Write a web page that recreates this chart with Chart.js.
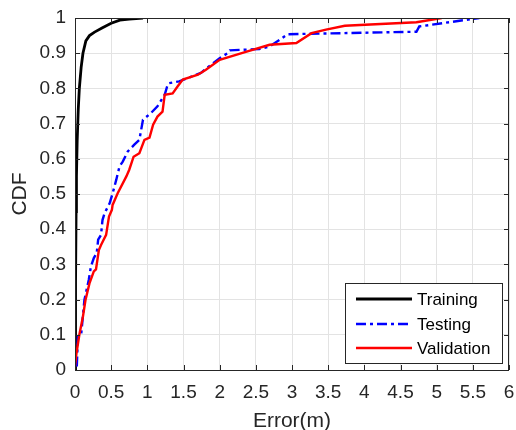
<!DOCTYPE html>
<html>
<head>
<meta charset="utf-8">
<script src="https://cdn.jsdelivr.net/npm/chart.js@4/dist/chart.umd.min.js"></script>
<style>
  html, body { margin: 0; padding: 0; background: #fff; }
  #wrap { width: 516px; height: 430px; }
</style>
</head>
<body>
<div id="wrap"><canvas id="cdf" width="516" height="430"></canvas></div>
<script>
// --- datos ---
const xTicks = [0, 0.5, 1, 1.5, 2, 2.5, 3, 3.5, 4, 4.5, 5, 5.5, 6];
const yTicks = [0, 0.1, 0.2, 0.3, 0.4, 0.5, 0.6, 0.7, 0.8, 0.9, 1];
const seriesNames = ['Training', 'Testing', 'Validation'];

const trainX = [0, 0.005, 0.01, 0.015, 0.02, 0.03, 0.045, 0.06, 0.085, 0.11, 0.15, 0.2, 0.27, 0.38, 0.5, 0.62, 0.75, 0.94];
const trainY = [0, 0.1, 0.25, 0.45, 0.55, 0.65, 0.74, 0.8, 0.86, 0.9, 0.935, 0.95, 0.96, 0.972, 0.985, 0.994, 0.997, 1.0];

const testX = [0.025, 0.04, 0.085, 0.13, 0.19, 0.22, 0.26, 0.30, 0.32, 0.36, 0.38, 0.41, 0.48, 0.52, 0.57, 0.615, 0.66, 0.73, 0.82, 0.89, 0.94, 1.05, 1.14, 1.24, 1.28, 1.30, 1.44, 1.74, 1.88, 2.0, 2.11, 2.14, 2.55, 2.69, 2.83, 2.94, 4.72, 4.76, 5.59];
const testY = [0.01, 0.095, 0.1, 0.199, 0.256, 0.294, 0.318, 0.332, 0.37, 0.384, 0.426, 0.446, 0.474, 0.502, 0.54, 0.578, 0.592, 0.621, 0.64, 0.654, 0.711, 0.73, 0.749, 0.782, 0.81, 0.815, 0.82, 0.844, 0.867, 0.886, 0.9, 0.908, 0.912, 0.919, 0.938, 0.954, 0.961, 0.976, 1.0];

const valX = [0, 0.02, 0.06, 0.11, 0.145, 0.2, 0.26, 0.29, 0.33, 0.36, 0.43, 0.47, 0.51, 0.52, 0.59, 0.71, 0.75, 0.81, 0.89, 0.96, 1.03, 1.08, 1.14, 1.21, 1.24, 1.35, 1.42, 1.49, 1.70, 1.81, 2.0, 2.35, 2.69, 3.06, 3.27, 3.47, 3.73, 4.72, 5.07];
const valY = [0.01, 0.047, 0.1, 0.152, 0.199, 0.246, 0.28, 0.286, 0.341, 0.355, 0.384, 0.436, 0.455, 0.469, 0.502, 0.55, 0.569, 0.606, 0.616, 0.654, 0.66, 0.697, 0.72, 0.734, 0.782, 0.786, 0.806, 0.825, 0.839, 0.853, 0.881, 0.903, 0.924, 0.929, 0.957, 0.967, 0.978, 0.988, 1.0];

const FONT = '"Liberation Sans", Arial, sans-serif';
const TXT = '#262626';

const pts = (xs, ys) => xs.map((x, i) => ({ x, y: ys[i] }));
const fmt = v => String(Number(v.toFixed(1)));

// caja, marcas internas y leyenda al estilo MATLAB
const matlabAxes = {
    id: 'matlabAxes',
    afterDraw(chart) {
        const { ctx, chartArea: a, scales } = chart;
        ctx.save();
        ctx.strokeStyle = TXT;
        ctx.lineWidth = 1;
        ctx.strokeRect(a.left + 0.5, a.top + 0.5, a.right - a.left - 1, a.bottom - a.top);
        ctx.beginPath();
        xTicks.forEach(t => {
            const px = Math.round(scales.x.getPixelForValue(t)) + 0.5;
            ctx.moveTo(px, a.bottom); ctx.lineTo(px, a.bottom - 5);
            ctx.moveTo(px, a.top); ctx.lineTo(px, a.top + 5);
        });
        yTicks.forEach(t => {
            const py = Math.round(scales.y.getPixelForValue(t)) + 0.5;
            ctx.moveTo(a.left, py); ctx.lineTo(a.left + 5, py);
            ctx.moveTo(a.right, py); ctx.lineTo(a.right - 5, py);
        });
        ctx.stroke();

        // leyenda
        const bx = 345, by = 283, bw = 157, bh = 80;
        ctx.fillStyle = '#fff';
        ctx.fillRect(bx, by, bw, bh);
        ctx.strokeStyle = '#262626';
        ctx.strokeRect(bx + 0.5, by + 0.5, bw, bh);
        ctx.font = '17px ' + FONT;
        ctx.textBaseline = 'middle';
        const rows = [299, 324, 348];
        chart.data.datasets.forEach((ds, i) => {
            ctx.strokeStyle = ds.borderColor;
            ctx.lineWidth = ds.borderWidth;
            ctx.setLineDash(ds.borderDash || []);
            ctx.beginPath();
            ctx.moveTo(356, rows[i]); ctx.lineTo(412, rows[i]);
            ctx.stroke();
            ctx.setLineDash([]);
            ctx.fillStyle = '#000';
            ctx.fillText(ds.label, 417, rows[i] + 1);
        });
        ctx.restore();
    }
};

new Chart(document.getElementById('cdf'), {
    type: 'line',
    data: {
        datasets: [
            { label: seriesNames[0], data: pts(trainX, trainY), borderColor: '#000000', borderWidth: 2.8, order: 3 },
            { label: seriesNames[1], data: pts(testX, testY), borderColor: '#0000ff', borderWidth: 2.4, borderDash: [10, 4, 3, 4], order: 2 },
            { label: seriesNames[2], data: pts(valX, valY), borderColor: '#ff0000', borderWidth: 2.4, order: 1 }
        ]
    },
    options: {
        responsive: false,
        animation: false,
        elements: { point: { radius: 0 }, line: { tension: 0 } },
        layout: { padding: { top: 18, right: 7, left: 0, bottom: 0 } },
        plugins: { legend: { display: false }, tooltip: { enabled: false } },
        scales: {
            x: {
                type: 'linear', min: 0, max: 6,
                afterBuildTicks: s => { s.ticks = xTicks.map(v => ({ value: v })); },
                afterFit: s => { s.height = 60; s.paddingLeft = 0; s.paddingRight = 0; },
                grid: { color: '#e3e3e3', drawTicks: false },
                border: { display: false },
                ticks: { padding: 11, color: TXT, font: { family: FONT, size: 19 }, maxRotation: 0, callback: v => fmt(v) },
                title: { display: true, text: 'Error(m)', color: TXT, font: { family: FONT, size: 21 }, padding: { top: 0, bottom: -4 } }
            },
            y: {
                type: 'linear', min: 0, max: 1,
                afterBuildTicks: s => { s.ticks = yTicks.map(v => ({ value: v })); },
                afterFit: s => { s.width = 75; s.paddingTop = 0; s.paddingBottom = 0; },
                grid: { color: '#e3e3e3', drawTicks: false },
                border: { display: false },
                ticks: { padding: 9, color: TXT, font: { family: FONT, size: 19 }, callback: v => fmt(v) },
                title: { display: true, text: 'CDF', color: TXT, font: { family: FONT, size: 21 }, padding: { top: 8, bottom: 0 } }
            }
        }
    },
    plugins: [matlabAxes]
});
</script>
</body>
</html>
